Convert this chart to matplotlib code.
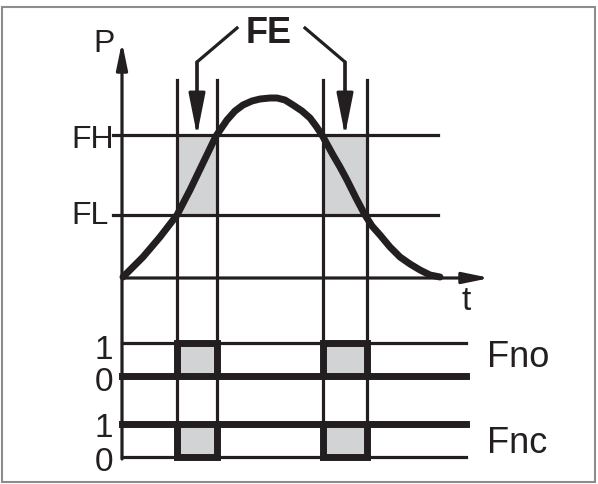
import matplotlib
matplotlib.use('Agg')
import matplotlib.pyplot as plt
from matplotlib.patches import Rectangle

plt.rcParams['font.family'] = ['Liberation Sans', 'DejaVu Sans']

INK = '#231f20'
GREY = '#d1d3d4'

# pressure curve P(t)
curve_t = [1, 21, 38, 55, 68, 81, 94, 105, 113, 121, 130, 138, 148, 155, 163,
           171, 180, 188, 194, 200, 211, 218, 225, 234, 243, 250, 258, 268, 278,
           288, 298, 308, 318]
curve_p = [1, 21, 41, 63, 88, 115, 142, 158, 167, 173, 177, 179, 180, 180, 178,
           173, 167, 160, 152, 143, 123, 111, 98, 80, 63, 52, 43, 31, 21,
           14, 8, 3, 1]

FH = 143
FL = 63
# switching instants (edges of the FE windows)
edges = [54.5, 94.5, 200.5, 244.5]
fno_states = [0, 1, 0, 1, 0]
fnc_states = [1, 0, 1, 0, 1]

t_end_upper = 316
t_end_lower = 344

# offsets of the two digital traces below the P axis
fno_lo, fno_hi = -97.5, -65
fnc_lo, fnc_hi = -178.5, -146

fig = plt.figure(figsize=(5.98, 4.84), dpi=100)
ax = fig.add_axes([0, 0, 1, 1])
ax.set_xlim(-122, 476)
ax.set_ylim(-206, 278)
ax.axis('off')

thin = 2.3
thick = 5.0

# grey FE windows
for a, b in [(edges[0], edges[1]), (edges[2], edges[3])]:
    ax.fill_between([a, b], FL, FH, color=GREY, lw=0, zorder=1)
    ax.fill_between([a, b], fno_lo, fno_hi, color=GREY, lw=0, zorder=1)
    ax.fill_between([a, b], fnc_lo, fnc_hi, color=GREY, lw=0, zorder=1)

# thresholds
ax.plot([-9, t_end_upper], [FH, FH], color=INK, lw=thin, zorder=2)
ax.plot([-9, t_end_upper], [FL, FL], color=INK, lw=thin, zorder=2)

# vertical guide lines
for e in edges:
    ax.plot([e, e], [fnc_lo, 198], color=INK, lw=thin, zorder=2)

# axes with arrows
ax.annotate('', xy=(0, 236), xytext=(0, -181),
            arrowprops=dict(arrowstyle='-|>,head_length=16,head_width=3.3',
                            mutation_scale=1, lw=thin, color=INK,
                            shrinkA=0, shrinkB=0), zorder=3)
ax.annotate('', xy=(368, 0), xytext=(0, 0),
            arrowprops=dict(arrowstyle='-|>,head_length=16,head_width=3.3',
                            mutation_scale=1, lw=thin, color=INK,
                            shrinkA=0, shrinkB=0), zorder=3)

# digital reference lines
ax.plot([0, t_end_lower], [fno_hi, fno_hi], color=INK, lw=thin, zorder=2)
ax.plot([0, t_end_lower], [fnc_lo, fnc_lo], color=INK, lw=thin, zorder=2)


def trace(states, lo, hi):
    base = hi if states[0] else lo
    xs = [0]
    ys = [base]
    for e, s in zip(edges, states[1:]):
        xs += [e, e]
        ys += [ys[-1], hi if s else lo]
    xs.append(t_end_lower)
    ys.append(ys[-1])
    ax.plot(xs, ys, color=INK, lw=thick, solid_joinstyle='miter', zorder=3)
    # close each pulse box along the resting level
    for i, s in enumerate(states[1:-1]):
        if s != states[0]:
            ax.plot([edges[i], edges[i + 1]], [base, base], color=INK,
                    lw=thick, zorder=3)


trace(fno_states, fno_lo, fno_hi)
trace(fnc_states, fnc_lo, fnc_hi)

# pressure curve
ax.plot(curve_t, curve_p, color=INK, lw=5, solid_capstyle='round',
        solid_joinstyle='round', zorder=4)

# FE arrows
for path in [[(115, 250), (75, 216), (75, 150)],
             [(183, 250), (223, 216), (223, 150)]]:
    xs, ys = zip(*path)
    ax.plot(xs, ys, color=INK, lw=thin, solid_joinstyle='miter', zorder=3)
    ax.annotate('', xy=(path[2][0], FH), xytext=path[1],
                arrowprops=dict(arrowstyle='-|>,head_length=25,head_width=5',
                                mutation_scale=1, lw=thin, color=INK,
                                shrinkA=0, shrinkB=0), zorder=3)

# labels
ax.text(147, 235, 'FE', fontsize=26, fontweight='bold', color=INK,
        ha='center', va='baseline')
ax.text(-17.5, 226, 'P', fontsize=23, color=INK, ha='center', va='baseline')
ax.text(-51, 130, 'FH', fontsize=23, color=INK, ha='left', va='baseline')
ax.text(-51, 54, 'FL', fontsize=23, color=INK, ha='left', va='baseline')
ax.text(344, -32, 't', fontsize=24, color=INK, ha='center', va='baseline')
for y, s in [(-81, '1'), (-113, '0'), (-159, '1'), (-193, '0')]:
    ax.text(-18, y, s, fontsize=24, color=INK, ha='center', va='baseline')
ax.text(365, -89, 'Fno', fontsize=26, color=INK, ha='left', va='baseline')
ax.text(365, -175, 'Fnc', fontsize=26, color=INK, ha='left', va='baseline')

# frame
ax.add_patch(Rectangle((-120, -204), 593, 475, fill=False, ec='#8c8c8c',
                       lw=1.5, zorder=0))

fig.savefig('out.png', dpi=100)
